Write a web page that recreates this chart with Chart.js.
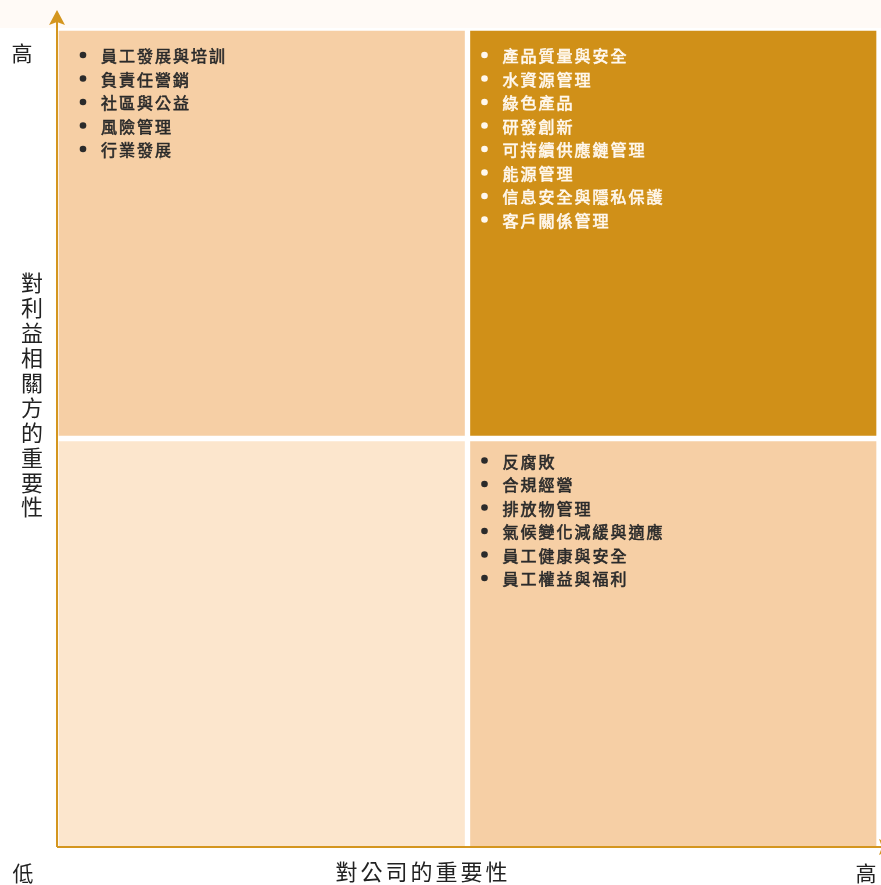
<!DOCTYPE html>
<html>
<head>
<meta charset="utf-8">
<script src="https://cdn.jsdelivr.net/npm/chart.js@4"></script>
<style>
    html, body { margin: 0; padding: 0; background: #ffffff; }
    canvas { display: block; }
</style>
</head>
<body>
<canvas id="matrixChart" width="881" height="885"></canvas>
<script>
// Categories: importance to the company (x) and to stakeholders (y)
const companyLevels = ['低', '高'];
const stakeholderLow = [[0, 1], [0, 1]];
const stakeholderHigh = [[1, 2], [1, 2]];

// Items in each quadrant
const highStakeLowCompany = ['員工發展與培訓', '負責任營銷', '社區與公益', '風險管理', '行業發展'];
const highStakeHighCompany = ['產品質量與安全', '水資源管理', '綠色產品', '研發創新', '可持續供應鏈管理', '能源管理', '信息安全與隱私保護', '客戶關係管理'];
const lowStakeLowCompany = [];
const lowStakeHighCompany = ['反腐敗', '合規經營', '排放物管理', '氣候變化減緩與適應', '員工健康與安全', '員工權益與福利'];

// Axis labels
const xTitle = '對公司的重要性';
const yTitle = '對利益相關方的重要性';
const lowLabel = '低';
const highLabel = '高';

const axisColor = '#d4961f';
const cjkFont = '"Noto Sans CJK TC", "Noto Sans CJK SC", sans-serif';

// Function to draw a notched arrow head
function arrowHead(ctx, tipX, tipY, dir) {
    ctx.beginPath();
    if (dir === 'up') {
        ctx.moveTo(tipX, tipY);
        ctx.lineTo(tipX + 8, tipY + 15);
        ctx.lineTo(tipX, tipY + 12);
        ctx.lineTo(tipX - 8, tipY + 15);
    } else {
        ctx.moveTo(tipX, tipY);
        ctx.lineTo(tipX - 15, tipY - 8);
        ctx.lineTo(tipX - 12, tipY);
        ctx.lineTo(tipX - 15, tipY + 8);
    }
    ctx.closePath();
    ctx.fill();
}

// Function to write the bullet list inside one quadrant
function drawList(ctx, bar, items, color, padX, padY) {
    const left = bar.x - bar.width / 2;
    const top = Math.min(bar.y, bar.base);
    ctx.save();
    ctx.fillStyle = color;
    ctx.strokeStyle = color;
    ctx.lineWidth = 0.6;
    ctx.font = '16px ' + cjkFont;
    ctx.letterSpacing = '2px';
    ctx.textBaseline = 'middle';
    items.forEach((item, i) => {
        const y = top + padY + i * 23.5;
        ctx.beginPath();
        ctx.arc(left + padX - 18, y, 3.3, 0, Math.PI * 2);
        ctx.fill();
        ctx.fillText(item, left + padX, y + 1);
        ctx.strokeText(item, left + padX, y + 1);
    });
    ctx.restore();
}

const backgroundPlugin = {
    id: 'topStrip',
    beforeDraw(chart) {
        const ctx = chart.ctx;
        ctx.save();
        ctx.fillStyle = '#fffaf6';
        ctx.fillRect(0, 0, chart.width, 28);
        ctx.restore();
    }
};

const labelsPlugin = {
    id: 'quadrantLabels',
    afterDraw(chart) {
        const ctx = chart.ctx;
        const lowMeta = chart.getDatasetMeta(0).data;
        const highMeta = chart.getDatasetMeta(1).data;

        drawList(ctx, highMeta[0], highStakeLowCompany, '#2b2b2b', 45, 27);
        drawList(ctx, highMeta[1], highStakeHighCompany, '#fff8ee', 35, 27);
        drawList(ctx, lowMeta[0], lowStakeLowCompany, '#2b2b2b', 45, 22);
        drawList(ctx, lowMeta[1], lowStakeHighCompany, '#2b2b2b', 35, 22);

        // axes
        const area = chart.chartArea;
        const ox = area.left + 1;
        const oy = area.bottom - 2;
        ctx.save();
        ctx.strokeStyle = axisColor;
        ctx.fillStyle = axisColor;
        ctx.lineWidth = 2;
        ctx.beginPath();
        ctx.moveTo(ox, oy);
        ctx.lineTo(ox, 20);
        ctx.moveTo(ox, oy);
        ctx.lineTo(chart.width, oy);
        ctx.stroke();
        arrowHead(ctx, ox, 10, 'up');
        arrowHead(ctx, 894, oy, 'right');
        ctx.restore();

        // axis texts
        ctx.save();
        ctx.fillStyle = '#222';
        ctx.textAlign = 'center';
        ctx.textBaseline = 'middle';
        ctx.font = '21px ' + cjkFont;
        ctx.fillText(highLabel, 22, 53);
        ctx.fillText(lowLabel, 23, 873);
        ctx.fillText(highLabel, 866, 873);

        ctx.font = '22px ' + cjkFont;
        ctx.letterSpacing = '3px';
        ctx.fillText(xTitle, 423, 872);
        ctx.letterSpacing = '0px';
        Array.from(yTitle).forEach((ch, i) => {
            ctx.fillText(ch, 32, 283 + i * 24.9);
        });
        ctx.restore();
    }
};

const ctx = document.getElementById('matrixChart').getContext('2d');
new Chart(ctx, {
    type: 'bar',
    data: {
        labels: companyLevels,
        datasets: [
            {
                label: '利益相關方重要性低',
                data: stakeholderLow,
                backgroundColor: ['#fce6cd', '#f6cfa5']
            },
            {
                label: '利益相關方重要性高',
                data: stakeholderHigh,
                backgroundColor: ['#f6cfa5', '#d09018']
            }
        ]
    },
    options: {
        responsive: false,
        devicePixelRatio: 1,
        animation: false,
        layout: {
            padding: { left: 56, right: 2, top: 28, bottom: 36 }
        },
        datasets: {
            bar: {
                barPercentage: 1,
                categoryPercentage: 1,
                borderColor: '#ffffff',
                borderWidth: 3,
                borderSkipped: false
            }
        },
        plugins: {
            legend: { display: false },
            tooltip: { enabled: false }
        },
        scales: {
            x: { stacked: true, display: false, offset: true },
            y: { min: 0, max: 2, display: false }
        }
    },
    plugins: [backgroundPlugin, labelsPlugin]
});
</script>
</body>
</html>
